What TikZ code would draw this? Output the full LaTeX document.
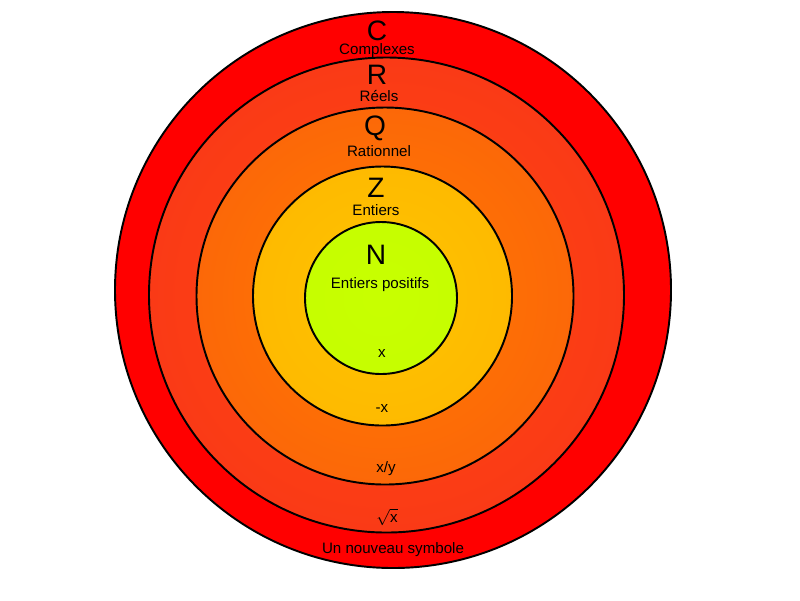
\documentclass[tikz,border=0pt]{standalone}
\usepackage{amsmath}
\usepackage{fontspec}
\setmainfont{Liberation Sans}
\definecolor{edgeC}{RGB}{255,0,0}
\definecolor{midC}{RGB}{255,2,0}
\definecolor{edgeR}{RGB}{250,58,22}
\definecolor{midR}{RGB}{255,72,14}
\definecolor{edgeQ}{RGB}{252,104,8}
\definecolor{midQ}{RGB}{255,122,0}
\definecolor{edgeZ}{RGB}{254,186,0}
\definecolor{midZ}{RGB}{255,196,0}
\definecolor{edgeN}{RGB}{198,254,0}
\definecolor{midN}{RGB}{200,255,0}

\begin{document}
\begin{tikzpicture}[x=0.02cm, y=-0.02cm, every node/.style={font=\fontsize{8.6}{10}\selectfont, inner sep=0pt}, setname/.style={font=\fontsize{16}{18}\selectfont}, ring/.style={draw=black, line width=1.1pt, shading=radial}]
	\useasboundingbox (0,0) rectangle (800,600);
	\foreach \cx/\cy/\r/\s in {393/290/278/C, 386.5/295/237.5/R, 385/296/188.5/Q, 382.5/296/129.5/Z, 381/298/76/N} {\draw[ring, inner color=mid\s, outer color=edge\s] (\cx,\cy) circle (\r);}
	\node[setname] (symC) at (377,31) {C};
	\node (nomC) at (377,51) {Complexes};
	\node[setname] (symR) at (377,75) {R};
	\node (nomR) at (379,96) {Réels};
	\node[setname] (symQ) at (375,128) {Q};
	\node (nomQ) at (379,151) {Rationnel};
	\node[setname] (symZ) at (376,188) {Z};
	\node (nomZ) at (376,210) {Entiers};
	\node[setname] (symN) at (376,255) {N};
	\node (nomN) at (380,285) {Entiers positifs};
	\node (opN) at (382,353) {x};
	\node (opZ) at (382,408) {-x};
	\node (opQ) at (386,469) {x/y};
	\node (opR) at (387,517) {$\sqrt{\text{x}}$};
	\node (opC) at (393,550) {Un nouveau symbole};
\end{tikzpicture}
\end{document}
